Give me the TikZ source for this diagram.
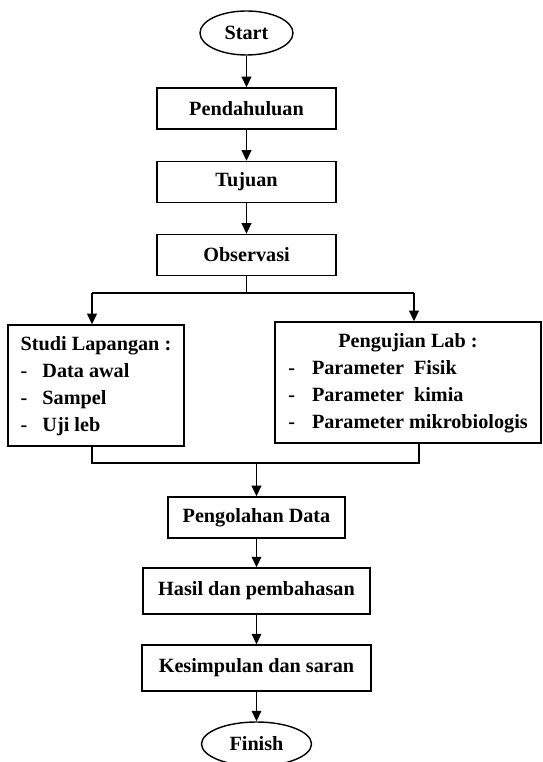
\documentclass[tikz,border=0pt]{standalone}
\usepackage{fontspec}
\setmainfont{Liberation Serif}
\usetikzlibrary{arrows.meta,shapes.geometric}

\begin{document}
\begin{tikzpicture}[line width=0.8pt,
    box/.style={draw,rectangle,inner sep=0pt,minimum height=0.82cm},
    term/.style={draw,ellipse,inner sep=0pt,minimum height=0.88cm},
    listbox/.style={draw,rectangle,inner sep=0pt,minimum height=2.42cm},
    arrow/.style={-{Triangle[length=6pt,width=5.5pt]}}]

        \useasboundingbox (0,0) rectangle (10.84,15.24);

        \begin{scope}[every node/.style={font=\fontsize{11.5}{15.5}\selectfont\bfseries}]
          \node[term,minimum width=1.86cm] (start)       at (4.93,14.58) {Start};
          \node[box,minimum width=3.58cm]  (pendahuluan) at (4.93,13.07) {Pendahuluan};
          \node[box,minimum width=3.58cm]  (tujuan)      at (4.93,11.60) {Tujuan};
          \node[box,minimum width=3.58cm]  (observasi)   at (4.93,10.14) {Observasi};
          \node[listbox,minimum width=3.52cm] (studi) at (1.92,7.53) {%
            \begin{tabular}{@{}l@{\hspace{0.3cm}}l@{}}
              \multicolumn{2}{@{}l@{}}{Studi Lapangan :}\\
              - & Data awal\\
              - & Sampel\\
              - & Uji leb
            \end{tabular}};
          \node[listbox,minimum width=5.32cm] (lab) at (8.16,7.59) {%
            \begin{tabular}{@{}l@{\hspace{0.34cm}}l@{}}
              \multicolumn{2}{@{}c@{}}{Pengujian Lab :}\\
              - & Parameter\ \ Fisik\\
              - & Parameter\ \ kimia\\
              - & Parameter mikrobiologis
            \end{tabular}};
          \node[box,minimum width=3.54cm] (olah)   at (5.13,4.89) {Pengolahan Data};
          \node[box,minimum width=4.54cm,minimum height=0.92cm] (hasil)  at (5.13,3.42) {Hasil dan pembahasan};
          \node[box,minimum width=4.58cm,minimum height=0.92cm] (simpul) at (5.13,1.88) {Kesimpulan dan saran};
          \node[term,minimum width=2.2cm] (finish) at (5.13,0.36) {Finish};
        \end{scope}

        % split and merge points
        \coordinate (split)  at (4.93,9.38);
        \coordinate (splitl) at (1.84,9.38);
        \coordinate (splitr) at (8.28,9.38);
        \coordinate (mergel) at (1.84,5.98);
        \coordinate (merger) at (8.38,5.98);
        \coordinate (merge)  at (5.13,5.98);

        \draw[arrow] (start) -- (pendahuluan);
        \draw[arrow] (pendahuluan) -- (tujuan);
        \draw[arrow] (tujuan) -- (observasi);
        \draw (observasi) -- (split);
        \draw (splitl) -- (splitr);
        \draw[arrow] (splitl) -- (splitl |- studi.north);
        \draw[arrow] (splitr) -- (splitr |- lab.north);
        \draw (studi.south -| mergel) -- (mergel) -- (merger) -- (lab.south -| merger);
        \draw[arrow] (merge) -- (olah);
        \draw[arrow] (olah) -- (hasil);
        \draw[arrow] (hasil) -- (simpul);
        \draw[arrow] (simpul) -- (finish);

      \end{tikzpicture}
\end{document}
